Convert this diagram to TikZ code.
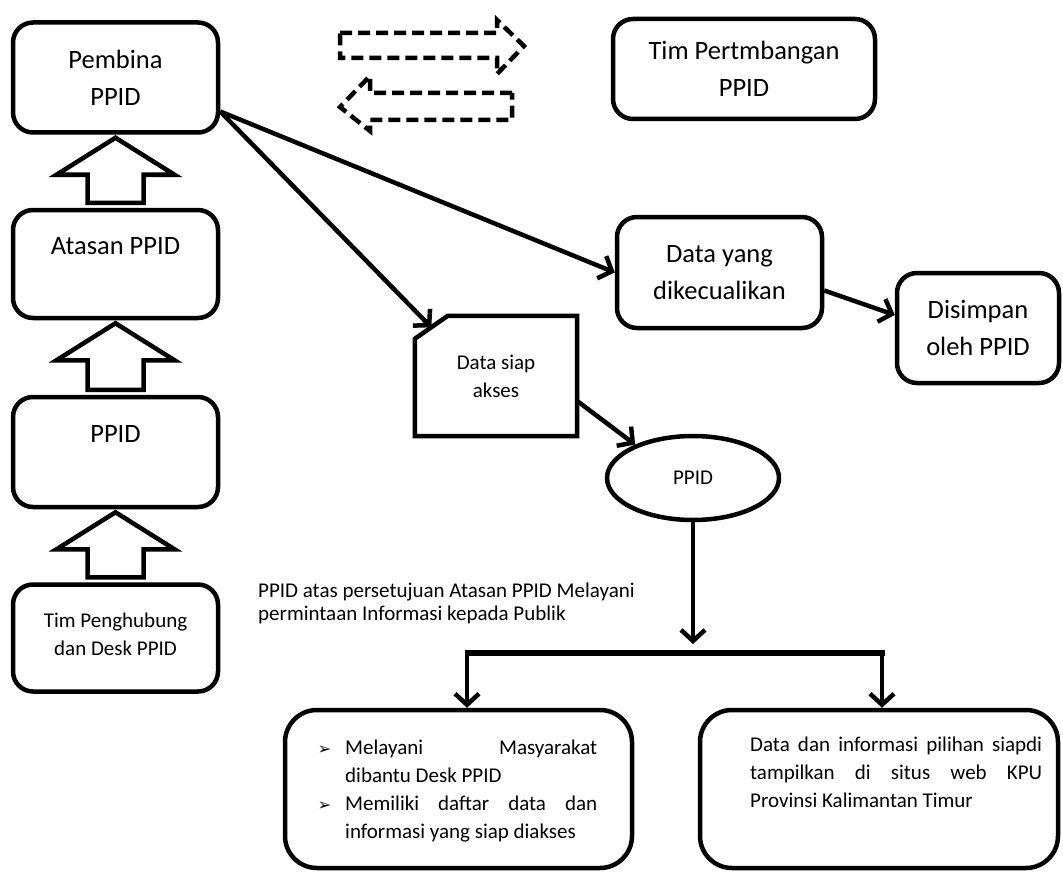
\documentclass[tikz,border=0pt]{standalone}
\usepackage{fontspec}
\setmainfont{Carlito}
\newfontfamily\dingfont{DejaVu Sans}
\usetikzlibrary{arrows.meta,calc,shapes.geometric}

\newcommand\bigfont{\fontsize{26.5}{37}\selectfont}
\newcommand\smallfont{\fontsize{21}{28}\selectfont}
\newcommand\arrowbullet{{\dingfont\fontsize{16}{16}\selectfont ➢}}

\tikzset{
  box/.style={draw, line width=4.5pt, rounded corners=20pt, align=center, font=\bigfont, inner sep=0pt},
  bigbox/.style={box, rounded corners=32pt},
  flow/.style={line width=4.5pt, -{Straight Barb[length=11pt,width=24pt]}},
  hollow/.style={draw, line width=4.5pt, line join=miter, fill=white},
  dasharrow/.style={draw, line width=4.5pt, dash pattern=on 12pt off 6pt},
  boxtext/.style={anchor=north west, inner sep=0pt, font=\smallfont, align=justify},
}

\begin{document}
\begin{tikzpicture}[x=1pt,y=-1pt]
\useasboundingbox (0,0) rectangle (1063,872);

% left column
\node[box, minimum width=205pt, minimum height=110pt] (pembina) at (115.5,77.5) {Pembina\\PPID};
\node[box, minimum width=205pt, minimum height=108pt] (atasan) at (115.5,264) {Atasan PPID\\\mbox{}};
\node[box, minimum width=205pt, minimum height=110pt] (ppid) at (115.5,452) {PPID\\\mbox{}};
\node[box, minimum width=205pt, minimum height=107pt, font=\smallfont] (tim) at (115.5,638) {Tim Penghubung\\dan Desk PPID\\[-20pt]\mbox{}};

% hollow up arrows between the boxes
\foreach \up/\lo in {pembina/atasan,atasan/ppid,ppid/tim}
  \draw[hollow] ($(\up.south)+(0,3)$) -- ++(59,37) -- ++(-31,0) -- ($(\lo.north)+(28,-5)$)
    -- ($(\lo.north)+(-28,-5)$) -- ($(\up.south)+(-28,40)$) -- ++(-31,0) -- cycle;

% dashed two-way arrows
\draw[dasharrow] (340,33) -- (497,33) -- (497,20) -- (524,46) -- (497,74) -- (497,58) -- (340,58) -- cycle;
\draw[dasharrow] (512,93) -- (370,93) -- (370,76) -- (340,107) -- (370,131) -- (370,120) -- (512,120) -- cycle;

% right part
\node[box, minimum width=262pt, minimum height=100pt] (pertimbangan) at (744,69) {Tim Pertmbangan\\PPID};
\node[box, minimum width=205pt, minimum height=111pt] (dikecualikan) at (719.5,272.5) {Data yang\\dikecualikan};
\node[box, minimum width=162pt, minimum height=110pt] (disimpan) at (978,328) {Disimpan\\oleh PPID};

\node[minimum width=162pt, minimum height=120pt, align=center, font=\smallfont, inner sep=0pt] (siap) at (496,376) {Data siap\\akses};
\draw[line width=4.5pt, line join=miter] ($(siap.north west)+(0,23)$) coordinate (siap-a) -- ($(siap.north west)+(33,0)$) coordinate (siap-b)
  -- (siap.north east) -- (siap.south east) -- (siap.south west) -- cycle;
\coordinate (siap-corner) at ($(siap-a)!0.5!(siap-b)$);

\node[draw, ellipse, line width=4.5pt, minimum width=172pt, minimum height=84pt, font=\smallfont, inner sep=0pt] (ppidell) at (693,478) {PPID};

\node[anchor=north west, inner sep=0pt, align=left, font=\fontsize{21}{23}\selectfont] (catatan) at (258,583)
  {PPID atas persetujuan Atasan PPID Melayani\\permintaan Informasi kepada Publik};

% connectors
\coordinate (pembina-out) at ($(pembina.east)+(0,34)$);
\draw[flow] (pembina-out) -- (dikecualikan.west);
\draw[flow] (pembina-out) -- (siap-corner);
\draw[flow] ($(siap.east)+(0,25)$) -- (ppidell.150);
\draw[flow] ($(dikecualikan.east)+(0,18)$) -- ($(disimpan.west)+(0,-13)$);

% bottom boxes
\node[bigbox, minimum width=347pt, minimum height=158pt] (layanibox) at (458.5,789) {};
\node[bigbox, minimum width=358pt, minimum height=158pt] (tampilbox) at (879,789) {};

\node[boxtext, text width=297pt] (layani) at (300,726) {%
  \begin{list}{\arrowbullet}{\setlength\leftmargin{45pt}\setlength\labelsep{14pt}\setlength\labelwidth{31pt}%
    \setlength\itemsep{0pt}\setlength\topsep{0pt}\setlength\parsep{0pt}\setlength\partopsep{0pt}}
  \item Melayani Masyarakat\linebreak dibantu Desk PPID
  \item Memiliki daftar data dan\linebreak informasi yang siap diakses
  \end{list}};
\node[boxtext, text width=292pt] (tampil) at (750,737)
  {Data dan informasi pilihan siapdi\linebreak tampilkan di situs web KPU\linebreak Provinsi Kalimantan Timur};

% split to the two bottom boxes
\coordinate (barL) at (467,653);
\coordinate (barR) at (882,653);
\draw[flow, shorten >=9pt] (ppidell.south) -- (ppidell.south |- barL);
\draw[line width=6pt] ($(barL)+(-2.5,0)$) -- ($(barR)+(2.5,0)$);
\draw[flow] (barL) -- (barL |- layanibox.north);
\draw[flow] (barR) -- (barR |- tampilbox.north);
\end{tikzpicture}
\end{document}
